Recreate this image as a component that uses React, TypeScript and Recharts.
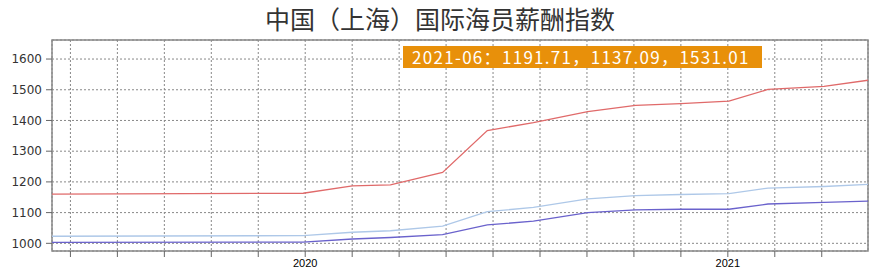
import { CartesianGrid, Line, LineChart, ReferenceArea, XAxis, YAxis } from "recharts";

// months counted from 2019-01 (12 = 2020-01, 24 = 2021-01)
const MONTHS = [4.81, 11.94, 13.34, 14.42, 15.9, 17.17, 18.48, 20.02, 21.38, 22.66, 24.03, 25.14, 26.73, 27.98];
const SERIES_A = [1023, 1025, 1036, 1041, 1056, 1103, 1117, 1145, 1155, 1159, 1162, 1180, 1185, 1191.71];
const SERIES_B = [1003, 1004, 1014, 1019, 1028, 1060, 1072, 1100, 1109, 1111, 1111, 1128, 1133, 1137.09];
const SERIES_C = [1160, 1163, 1187, 1190, 1231, 1367, 1393, 1429, 1449, 1455, 1463, 1501, 1511, 1531.01];
const LAST_LABEL = "2021-06";

const X_TICKS = Array.from({ length: 17 }, (_, i) => 12 + ((i - 5) * 4) / 3);
const YEAR_LABELS: Record<string, string> = { "12": "2020", "24": "2021" };
const Y_TICKS = [1000, 1100, 1200, 1300, 1400, 1500, 1600];
const X_DOMAIN: [number, number] = [4.81, 27.98];
const Y_DOMAIN: [number, number] = [975, 1662];

const COLORS = ["#aec8e8", "#6a62cc", "#e06a6a"];

export default function App() {
  const data = MONTHS.map((m, i) => ({ m, a: SERIES_A[i], b: SERIES_B[i], c: SERIES_C[i] }));
  const last = data.length - 1;
  const label = `${LAST_LABEL}：${SERIES_A[last].toFixed(2)}，${SERIES_B[last].toFixed(2)}，${SERIES_C[last].toFixed(2)}`;

  return (
    <div style={{ position: "relative", width: 880, height: 278, background: "#fff" }}>
      <style>{`body{margin:0}`}</style>
      <div
        style={{
          position: "absolute",
          top: 0,
          left: 0,
          width: 880,
          textAlign: "center",
          fontFamily: "'Noto Sans CJK SC'",
          fontSize: 25,
          lineHeight: "normal",
          color: "#333",
        }}
      >
        中国（上海）国际海员薪酬指数
      </div>
      <LineChart width={880} height={278} data={data} margin={{ top: 40, right: 12, bottom: 0, left: 0 }}>
        <CartesianGrid stroke="#888" strokeDasharray="2 2" />
        <XAxis
          dataKey="m"
          type="number"
          domain={X_DOMAIN}
          allowDataOverflow
          ticks={X_TICKS}
          interval={0}
          height={27}
          axisLine={false}
          tickSize={6}
          tickLine={{ stroke: "#666" }}
          tickFormatter={(v: number) => YEAR_LABELS[String(Math.round(v * 1000) / 1000)] ?? ""}
          tick={{ fontSize: 11, fill: "#000", fontFamily: "'Liberation Sans'" }}
        />
        <YAxis
          type="number"
          domain={Y_DOMAIN}
          allowDataOverflow
          ticks={Y_TICKS}
          width={52}
          axisLine={false}
          tickSize={6}
          tickMargin={4}
          tickLine={{ stroke: "#666" }}
          tick={{ fontSize: 12, fill: "#333", fontFamily: "'DejaVu Sans'" }}
        />
        <ReferenceArea
          x1={X_DOMAIN[0]}
          x2={X_DOMAIN[1]}
          y1={Y_DOMAIN[0]}
          y2={Y_DOMAIN[1]}
          fill="none"
          stroke="#888"
          strokeWidth={1.5}
          ifOverflow="visible"
        />
        <Line type="linear" dataKey="a" stroke={COLORS[0]} strokeWidth={1.3} dot={false} isAnimationActive={false} />
        <Line type="linear" dataKey="b" stroke={COLORS[1]} strokeWidth={1.3} dot={false} isAnimationActive={false} />
        <Line type="linear" dataKey="c" stroke={COLORS[2]} strokeWidth={1.3} dot={false} isAnimationActive={false} />
      </LineChart>
      <div
        style={{
          position: "absolute",
          left: 403,
          top: 46,
          width: 359,
          height: 22,
          background: "#e8900a",
          color: "#fff",
          fontFamily: "'Noto Sans CJK SC'",
          fontSize: 17,
          lineHeight: "22px",
          letterSpacing: "1.3px",
          paddingLeft: 9,
          boxSizing: "border-box",
          whiteSpace: "nowrap",
        }}
      >
        {label}
      </div>
    </div>
  );
}
